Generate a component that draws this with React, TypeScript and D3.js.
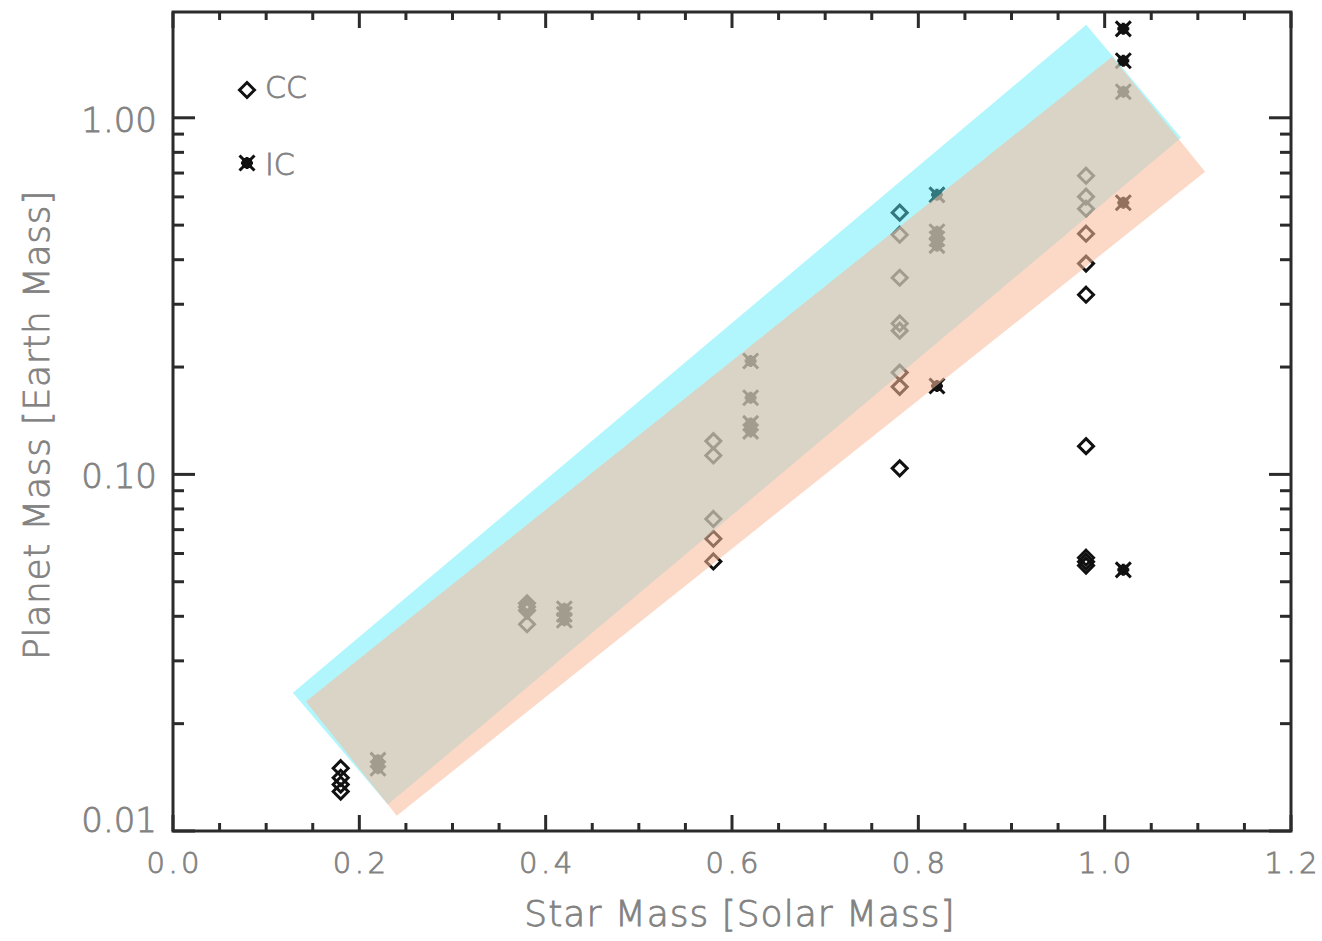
import React from "react";
import * as d3 from "d3";

// ---- data ----
const ccStarMass = [
  0.18, 0.18, 0.18, 0.18,
  0.38, 0.38, 0.38, 0.38,
  0.58, 0.58, 0.58, 0.58, 0.58,
  0.78, 0.78, 0.78, 0.78, 0.78, 0.78, 0.78, 0.78,
  0.98, 0.98, 0.98, 0.98, 0.98, 0.98, 0.98, 0.98, 0.98, 0.98,
];
const ccPlanetMass = [
  0.0150, 0.0141, 0.0135, 0.0129,
  0.0435, 0.0425, 0.0415, 0.0380,
  0.124, 0.113, 0.075, 0.066, 0.057,
  0.542, 0.470, 0.356, 0.265, 0.253, 0.193, 0.176, 0.104,
  0.688, 0.601, 0.556, 0.473, 0.390, 0.319, 0.120, 0.0584, 0.0569, 0.0555,
];
const icStarMass = [
  0.22, 0.22,
  0.42, 0.42, 0.42,
  0.62, 0.62, 0.62, 0.62,
  0.82, 0.82, 0.82, 0.82, 0.82,
  1.02, 1.02, 1.02, 1.02, 1.02,
];
const icPlanetMass = [
  0.0158, 0.0150,
  0.0420, 0.0405, 0.0390,
  0.208, 0.164, 0.139, 0.132,
  0.608, 0.479, 0.458, 0.438, 0.177,
  1.776, 1.445, 1.183, 0.578, 0.0540,
];

// band corners (star mass, planet mass)
const cyanBandX = [0.1287, 0.9802, 1.082, 0.2306];
const cyanBandY = [0.02443, 1.823, 0.879, 0.01186];
const salmonBandX = [0.1426, 1.008, 1.1078, 0.2402];
const salmonBandY = [0.02306, 1.483, 0.7058, 0.01104];

const xTickValues = [0, 0.2, 0.4, 0.6, 0.8, 1.0, 1.2];
const xTickLabels = ["0.0", "0.2", "0.4", "0.6", "0.8", "1.0", "1.2"];
const yTickValues = [0.01, 0.1, 1];
const yTickLabels = ["0.01", "0.10", "1.00"];
const legendLabels = ["CC", "IC"];

const W = 1322;
const H = 941;
const L = 173, R = 1291, T = 12, B = 831;

const xScale = d3.scaleLinear().domain([0, 1.2]).range([L, R]);
const yScale = d3.scaleLog().domain([0.01, 1.98]).range([B, T]);

const FRAME = "#2b2b2b";
const TEXT = "#828282";
const FONT = "'DejaVu Sans', sans-serif";

function Diamond({ x, y, color = "#111" }: { x: number; y: number; color?: string }) {
  return (
    <path
      transform={`translate(${x},${y})`}
      d="M0,-7.5L7.5,0L0,7.5L-7.5,0Z"
      fill="none"
      stroke={color}
      strokeWidth={3}
    />
  );
}

function Asterisk({ x, y, color = "#111" }: { x: number; y: number; color?: string }) {
  return (
    <g transform={`translate(${x},${y})`}>
      <path d="M-7.5,-7.5L7.5,7.5M-7.5,7.5L7.5,-7.5M-6,0L6,0M0,-6L0,6" stroke={color} strokeWidth={3} fill="none" />
      <rect x={-5} y={-5} width={10} height={10} fill={color} />
    </g>
  );
}

export default function App() {
  const line = d3.line<[number, number]>().x((d) => xScale(d[0])).y((d) => yScale(d[1]));
  const cyanPts = cyanBandX.map((x, i) => [x, cyanBandY[i]] as [number, number]);
  const salmonPts = salmonBandX.map((x, i) => [x, salmonBandY[i]] as [number, number]);

  const xMinor = d3.range(0, 24.5, 1).map((k) => k * 0.05).filter((v, i) => i % 4 !== 0);
  const yMinor: number[] = [];
  [0.01, 0.1, 1].forEach((dec) => {
    for (let k = 2; k <= 9; k++) {
      const v = dec * k;
      if (v <= 1.98) yMinor.push(v);
    }
  });

  const textProps = {
    fill: TEXT,
    stroke: TEXT,
    strokeWidth: 0.8,
    fontFamily: FONT,
    fontWeight: 300,
  };

  return (
    <svg width={W} height={H} style={{ position: "absolute", left: 0, top: 0, background: "#fff" }}>
      <rect x={0} y={0} width={W} height={H} fill="#fff" />
      {/* points */}
      <g>
        {ccStarMass.map((m, i) => (
          <Diamond key={"cc" + i} x={xScale(m)} y={yScale(ccPlanetMass[i])} />
        ))}
        {icStarMass.map((m, i) => (
          <Asterisk key={"ic" + i} x={xScale(m)} y={yScale(icPlanetMass[i])} />
        ))}
      </g>
      {/* bands */}
      <path d={line(cyanPts)! + "Z"} fill="rgb(87,236,249)" fillOpacity={0.47} />
      <path d={line(salmonPts)! + "Z"} fill="rgb(250,185,156)" fillOpacity={0.56} />

      {/* frame */}
      <rect x={L} y={T} width={R - L} height={B - T} fill="none" stroke={FRAME} strokeWidth={3} />
      {/* ticks */}
      <g stroke={FRAME} strokeWidth={3}>
        {xTickValues.map((v, i) => (
          <g key={"xt" + i}>
            <line x1={xScale(v)} x2={xScale(v)} y1={B} y2={B - 16} />
            <line x1={xScale(v)} x2={xScale(v)} y1={T} y2={T + 16} />
          </g>
        ))}
        {xMinor.map((v, i) => (
          <g key={"xm" + i}>
            <line x1={xScale(v)} x2={xScale(v)} y1={B} y2={B - 8} />
            <line x1={xScale(v)} x2={xScale(v)} y1={T} y2={T + 8} />
          </g>
        ))}
        {yTickValues.map((v, i) => (
          <g key={"yt" + i}>
            <line x1={L} x2={L + 22} y1={yScale(v)} y2={yScale(v)} />
            <line x1={R} x2={R - 22} y1={yScale(v)} y2={yScale(v)} />
          </g>
        ))}
        {yMinor.map((v, i) => (
          <g key={"ym" + i}>
            <line x1={L} x2={L + 11} y1={yScale(v)} y2={yScale(v)} />
            <line x1={R} x2={R - 11} y1={yScale(v)} y2={yScale(v)} />
          </g>
        ))}
      </g>
      {/* tick labels and titles */}
      <g {...textProps}>
        {xTickValues.map((v, i) => (
          <text key={"xl" + i} x={xScale(v) + 1.75} y={873} fontSize={29} letterSpacing={3.5} textAnchor="middle">
            {xTickLabels[i]}
          </text>
        ))}
        {yTickValues.map((v, i) => (
          <text key={"yl" + i} x={157} y={yScale(v) + (i === 0 ? 1 : 14)} fontSize={34} textAnchor="end">
            {yTickLabels[i]}
          </text>
        ))}
        <text x={740} y={926} fontSize={36} letterSpacing={1} textAnchor="middle">
          Star Mass [Solar Mass]
        </text>
        <text transform={`translate(49,425) rotate(-90)`} fontSize={36} letterSpacing={0.7} textAnchor="middle">
          Planet Mass [Earth Mass]
        </text>
      </g>
      {/* legend */}
      <g>
        <Diamond x={247} y={90} />
        <Asterisk x={247} y={163} />
        <text x={265} y={98} {...textProps} fontSize={30}>
          {legendLabels[0]}
        </text>
        <text x={265} y={175} {...textProps} fontSize={30}>
          {legendLabels[1]}
        </text>
      </g>
    </svg>
  );
}
